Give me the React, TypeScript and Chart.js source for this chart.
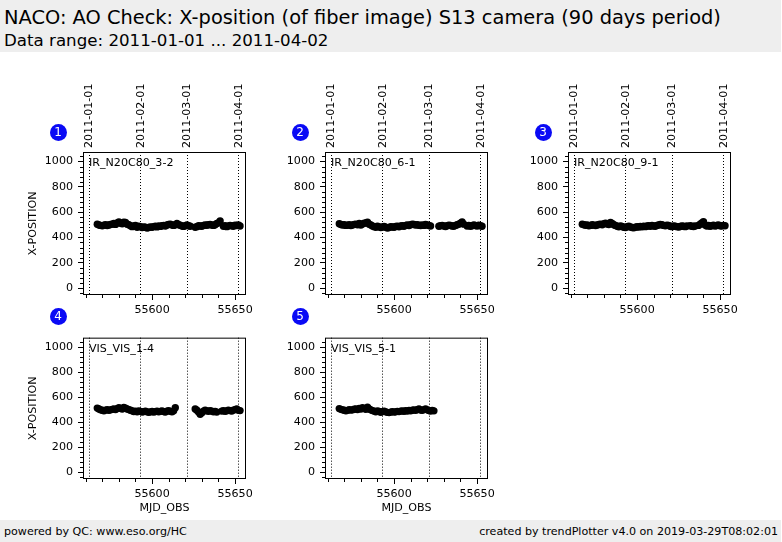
import React, { useEffect, useRef } from "react";
import { Chart, registerables } from "chart.js";

Chart.register(...registerables);

const FONT = "'DejaVu Sans', 'Liberation Sans', sans-serif";

const titleText = "NACO: AO Check: X-position (of fiber image) S13 camera (90 days period)";
const subtitleText = "Data range: 2011-01-01 ... 2011-04-02";
const footerLeft = "powered by QC: www.eso.org/HC";
const footerRight = "created by trendPlotter v4.0 on 2019-03-29T08:02:01";

const dateLabels = ["2011-01-01", "2011-02-01", "2011-03-01", "2011-04-01"];
const dateMJD = [55562, 55593, 55621, 55652];
const xTicks = [55600, 55650];
const yTicks = [0, 200, 400, 600, 800, 1000];
const xMinorTicks = [55560, 55570, 55580, 55590, 55610, 55620, 55630, 55640];
const yMinorTicks = [-40, 40, 80, 120, 160, 240, 280, 320, 360, 440, 480, 520, 560, 640, 680, 720, 760, 840, 880, 920, 960, 1040];
const xMin = 55558.4;
const xMax = 55656.6;
const yMin = -55;
const yMax = 1075;

const panelNames = ["IR_N20C80_3-2", "IR_N20C80_6-1", "IR_N20C80_9-1", "VIS_VIS_1-4", "VIS_VIS_5-1"];

const mjd1 = [55567,55568,55569,55570,55571,55572,55573,55574,55575,55576,55577,55578,55579,55580,55581,55582,55583,55584,55585,55586,55587,55588,55589,55590,55591,55592,55593,55594,55595,55596,55597,55598,55599,55600,55601,55602,55603,55604,55605,55606,55607,55608,55609,55610,55611,55612,55613,55614,55615,55616,55617,55618,55619,55620,55621,55622,55623,55626,55627,55628,55629,55630,55631,55632,55633,55634,55635,55636,55637,55638,55639,55640,55641,55643,55644,55645,55646,55647,55648,55649,55650,55651,55652,55653];
const pos1 = [505,498,495,492,497,500,494,498,502,505,510,503,515,522,512,508,520,518,505,500,492,485,490,495,480,488,485,478,482,480,475,478,482,480,485,488,483,490,487,492,495,490,498,502,505,498,495,500,510,500,496,490,487,493,498,492,488,480,485,492,490,488,495,498,496,500,502,498,495,500,510,515,530,488,492,485,490,495,492,488,496,494,498,490];

const mjd2 = [55567,55568,55569,55570,55571,55572,55573,55574,55575,55576,55577,55578,55579,55580,55581,55582,55583,55584,55585,55586,55587,55588,55589,55590,55591,55592,55593,55594,55595,55596,55597,55598,55599,55600,55601,55602,55603,55604,55605,55606,55607,55608,55609,55610,55611,55612,55613,55614,55615,55616,55617,55618,55619,55620,55621,55622,55627,55628,55629,55630,55631,55632,55633,55634,55635,55636,55637,55638,55639,55640,55641,55642,55644,55645,55646,55647,55648,55649,55650,55651,55652,55653];
const pos2 = [508,502,498,500,495,497,500,494,498,503,505,500,510,498,506,512,515,520,505,498,490,485,480,488,483,478,482,486,480,475,478,484,482,480,486,488,484,490,492,488,495,498,494,500,505,502,498,500,496,494,498,495,502,498,494,490,488,492,495,490,486,492,496,494,490,488,495,500,505,512,522,505,490,495,488,492,498,494,490,496,492,488];

const mjd3 = [55567,55568,55569,55570,55571,55572,55573,55574,55575,55576,55577,55578,55579,55580,55581,55582,55583,55584,55585,55586,55587,55588,55589,55590,55591,55592,55593,55594,55595,55596,55597,55598,55599,55600,55601,55602,55603,55604,55605,55606,55607,55608,55609,55610,55611,55612,55613,55614,55615,55616,55617,55618,55619,55620,55621,55622,55623,55624,55625,55626,55627,55628,55629,55630,55632,55633,55634,55635,55637,55638,55639,55640,55641,55642,55643,55644,55645,55646,55647,55648,55649,55650,55651,55652,55653];
const pos3 = [505,500,496,498,492,495,500,497,494,498,502,505,500,508,512,506,502,518,510,500,495,488,484,490,486,480,478,484,488,482,478,476,480,484,482,486,484,488,485,490,492,488,494,490,488,495,498,502,500,495,492,496,494,488,485,490,488,485,482,486,490,488,485,490,492,488,486,490,495,505,515,525,498,490,494,488,492,496,490,494,498,492,490,495,492];

const mjd4 = [55567,55568,55569,55570,55571,55572,55573,55574,55575,55576,55577,55578,55579,55580,55581,55582,55583,55584,55585,55586,55587,55588,55589,55590,55591,55592,55593,55594,55595,55596,55597,55598,55599,55600,55601,55602,55603,55604,55605,55606,55607,55608,55609,55610,55611,55612,55613,55614,55626,55627,55628,55629,55630,55631,55632,55633,55634,55635,55636,55637,55638,55639,55642,55643,55644,55645,55646,55647,55648,55649,55650,55651,55652,55653];
const pos4 = [512,505,498,495,490,496,500,494,498,502,505,500,508,515,510,505,518,512,505,500,495,490,485,488,482,490,486,480,484,488,482,478,482,485,480,484,488,482,486,490,484,480,488,492,486,482,490,515,505,495,480,462,475,488,495,490,486,492,488,482,486,480,488,492,486,490,495,492,488,496,500,505,494,492];

const mjd5 = [55567,55568,55569,55570,55571,55572,55573,55574,55575,55576,55577,55578,55579,55580,55581,55582,55583,55584,55585,55586,55587,55588,55589,55590,55591,55592,55593,55594,55595,55596,55597,55598,55599,55600,55601,55602,55603,55604,55605,55606,55607,55608,55609,55610,55611,55612,55613,55614,55615,55616,55617,55618,55619,55620,55621,55622,55623,55624];
const pos5 = [508,502,498,495,490,494,500,496,498,503,506,500,510,504,515,508,502,520,505,498,492,488,482,490,485,478,484,488,482,478,476,480,484,480,482,486,484,488,490,486,492,488,494,490,495,498,494,500,505,496,494,500,505,498,492,488,494,490];

const panelMJD = [mjd1, mjd2, mjd3, mjd4, mjd5];
const panelPos = [pos1, pos2, pos3, pos4, pos5];

// layout (pixels)
const colLeft = [83, 325, 568];
const rowTop = [152, 336];
const plotW = 163;
const plotH = 143;

type PanelProps = {
  index: number;
  name: string;
  mjd: number[];
  vals: number[];
  left: number;
  top: number;
  showDates: boolean;
  showYTitle: boolean;
  showXTitle: boolean;
};

function Panel(p: PanelProps) {
  const ref = useRef<HTMLCanvasElement>(null);
  const L = 60;
  const R = 20;
  const T = p.showDates ? 75 : 10;
  const B = 40;
  const cw = L + plotW + R;
  const ch = T + plotH + B;

  useEffect(() => {
    const tickFont = { family: FONT, size: 11.1 };
    const decor = {
      id: "decor" + p.index,
      beforeDatasetsDraw(chart: any) {
        const ctx = chart.ctx;
        const a = chart.chartArea;
        const xs = chart.scales.x;
        ctx.save();
        ctx.strokeStyle = "#000";
        ctx.lineWidth = 1;
        ctx.setLineDash([1, 2]);
        dateMJD.forEach((m) => {
          const x = Math.round(xs.getPixelForValue(m)) + 0.5;
          ctx.beginPath();
          ctx.moveTo(x, a.top);
          ctx.lineTo(x, a.bottom);
          ctx.stroke();
        });
        ctx.restore();
      },
      afterDraw(chart: any) {
        const ctx = chart.ctx;
        const a = chart.chartArea;
        const xs = chart.scales.x;
        const ys = chart.scales.y;
        ctx.save();
        ctx.strokeStyle = "#000";
        ctx.lineWidth = 1;
        ctx.strokeRect(a.left + 0.5, a.top + 0.5, a.right - a.left - 1, a.bottom - a.top - 1);
        // minor ticks
        ctx.beginPath();
        xMinorTicks.forEach((m) => {
          const x = Math.round(xs.getPixelForValue(m)) + 0.5;
          ctx.moveTo(x, a.bottom);
          ctx.lineTo(x, a.bottom + 3);
        });
        yMinorTicks.forEach((v) => {
          const y = Math.round(ys.getPixelForValue(v)) + 0.5;
          ctx.moveTo(a.left, y);
          ctx.lineTo(a.left - 3, y);
        });
        ctx.stroke();
        // panel label
        ctx.fillStyle = "#000";
        ctx.font = `11.1px ${FONT}`;
        ctx.textAlign = "left";
        ctx.textBaseline = "middle";
        ctx.fillText(p.name, a.left + 6, a.top + 11);
        // date labels on top
        if (p.showDates) {
          dateLabels.forEach((d, i) => {
            const x = xs.getPixelForValue(dateMJD[i]);
            ctx.save();
            ctx.translate(x + 0.5, a.top - 4);
            ctx.rotate(-Math.PI / 2);
            ctx.textAlign = "left";
            ctx.textBaseline = "middle";
            ctx.fillText(d, 0, 0);
            ctx.restore();
          });
        }
        ctx.restore();
      },
    };

    const chart = new Chart(ref.current as HTMLCanvasElement, {
      type: "scatter",
      data: {
        datasets: [
          {
            data: p.mjd.map((m, i) => ({ x: m, y: p.vals[i] })),
            pointRadius: 3.7,
            pointHoverRadius: 3.7,
            pointBackgroundColor: "#000",
            pointBorderColor: "#000",
            pointBorderWidth: 0,
          },
        ],
      },
      options: {
        animation: false,
        responsive: false,
        maintainAspectRatio: false,
        events: [],
        layout: { padding: { left: 0, top: T, right: R, bottom: 0 } },
        plugins: { legend: { display: false }, tooltip: { enabled: false } },
        scales: {
          x: {
            type: "linear",
            position: "bottom",
            min: xMin,
            max: xMax,
            afterBuildTicks: (s: any) => {
              s.ticks = xTicks.map((v) => ({ value: v }));
            },
            afterFit: (s: any) => {
              s.height = B;
            },
            ticks: {
              color: "#000",
              font: tickFont,
              padding: 3,
              maxRotation: 0,
              minRotation: 0,
              autoSkip: false,
              callback: (v: any) => String(v),
            },
            grid: { display: true, drawOnChartArea: false, drawTicks: true, tickLength: 5, color: "#000" },
            border: { display: false },
            title: {
              display: p.showXTitle,
              text: "MJD_OBS",
              color: "#000",
              font: tickFont,
              padding: { top: 0, bottom: 4 },
            },
          },
          y: {
            type: "linear",
            position: "left",
            min: yMin,
            max: yMax,
            afterBuildTicks: (s: any) => {
              s.ticks = yTicks.map((v) => ({ value: v }));
            },
            afterFit: (s: any) => {
              s.width = L;
            },
            ticks: {
              color: "#000",
              font: tickFont,
              padding: 5,
              autoSkip: false,
              callback: (v: any) => String(v),
            },
            grid: { display: true, drawOnChartArea: false, drawTicks: true, tickLength: 5, color: "#000" },
            border: { display: false },
            title: {
              display: p.showYTitle,
              text: "X-POSITION",
              color: "#000",
              font: tickFont,
              padding: { top: 3, bottom: 0 },
            },
          },
        },
      },
      plugins: [decor],
    } as any);
    return () => chart.destroy();
  }, []);

  return (
    <canvas
      ref={ref}
      width={cw}
      height={ch}
      style={{ position: "absolute", left: p.left - L, top: p.top - T, width: cw, height: ch }}
    />
  );
}

function Badge({ n, cx, cy }: { n: number; cx: number; cy: number }) {
  const d = 17;
  return (
    <div
      style={{
        position: "absolute",
        left: cx - d / 2,
        top: cy - d / 2,
        width: d,
        height: d,
        borderRadius: "50%",
        background: "#0a0af5",
        color: "#fff",
        fontFamily: FONT,
        fontSize: 12,
        lineHeight: d + "px",
        textAlign: "center",
      }}
    >
      {n}
    </div>
  );
}

export default function App() {
  const panels = panelNames.map((name, i) => {
    const row = Math.floor(i / 3);
    const col = i % 3;
    return { i, name, row, col, left: colLeft[col], top: rowTop[row] };
  });
  return (
    <div
      style={{
        position: "fixed",
        left: 0,
        top: 0,
        width: 782,
        height: 542,
        background: "#fff",
        overflow: "hidden",
        fontFamily: FONT,
        color: "#000",
      }}
    >
      <div style={{ position: "absolute", left: 0, top: 0, width: 781, height: 52, background: "#eeeeee" }} />
      <div style={{ position: "absolute", left: 4, top: 6, fontSize: 19.4, lineHeight: "24px", whiteSpace: "nowrap" }}>
        {titleText}
      </div>
      <div style={{ position: "absolute", left: 4, top: 30, fontSize: 16.67, lineHeight: "22px", whiteSpace: "nowrap" }}>
        {subtitleText}
      </div>
      {panels.map((pp) => (
        <Panel
          key={pp.i}
          index={pp.i}
          name={pp.name}
          mjd={panelMJD[pp.i]}
          vals={panelPos[pp.i]}
          left={pp.left}
          top={pp.top}
          showDates={pp.row === 0}
          showYTitle={pp.col === 0}
          showXTitle={pp.row === 1}
        />
      ))}
      {panels.map((pp) => (
        <Badge key={"b" + pp.i} n={pp.i + 1} cx={pp.left - 25} cy={pp.top - 20} />
      ))}
      <div style={{ position: "absolute", left: 0, top: 520, width: 781, height: 22, background: "#eeeeee" }} />
      <div style={{ position: "absolute", left: 4, top: 524, fontSize: 11.1, lineHeight: "16px", whiteSpace: "nowrap" }}>
        {footerLeft}
      </div>
      <div
        style={{ position: "absolute", right: 4, top: 524, fontSize: 11.1, lineHeight: "16px", whiteSpace: "nowrap", textAlign: "right" }}
      >
        {footerRight}
      </div>
    </div>
  );
}
